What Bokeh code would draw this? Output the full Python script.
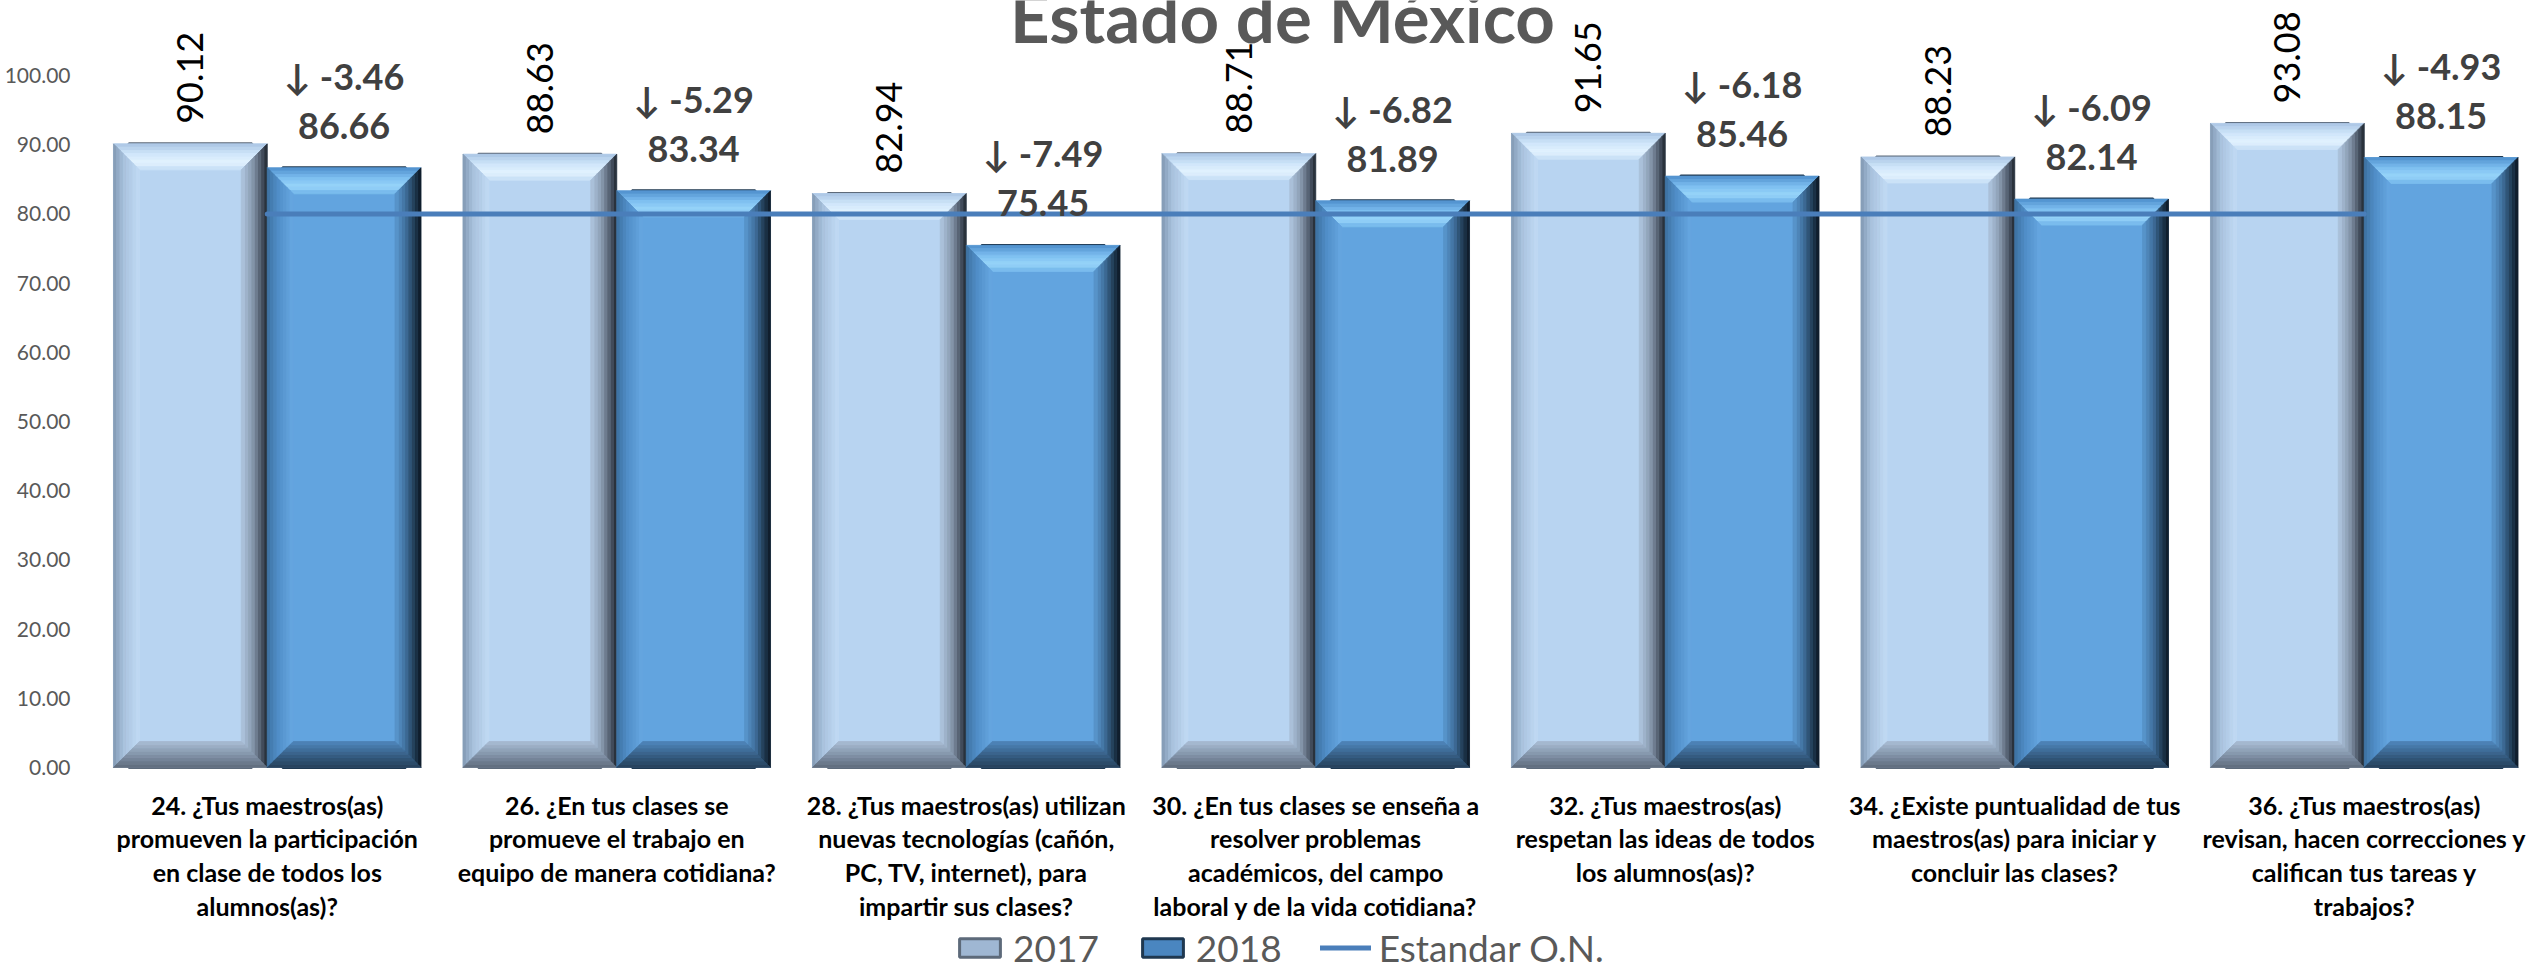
import numpy as np
from bokeh.plotting import figure
from bokeh.models import (Range1d, FixedTicker, NumeralTickFormatter, Legend,
                          LegendItem, Label, ColumnDataSource)
from bokeh.core.properties import value
from bokeh.embed import file_html
from bokeh.resources import INLINE

# ---------------- data ----------------
categories = [
    "24. ¿Tus maestros(as)\npromueven la participación\nen clase de todos los\nalumnos(as)?",
    "26. ¿En tus clases se\npromueve el trabajo en\nequipo de manera cotidiana?",
    "28. ¿Tus maestros(as) utilizan\nnuevas tecnologías (cañón,\nPC, TV, internet), para\nimpartir sus clases?",
    "30. ¿En tus clases se enseña a\nresolver problemas\nacadémicos, del campo\nlaboral y de la vida cotidiana?",
    "32. ¿Tus maestros(as)\nrespetan las ideas de todos\nlos alumnos(as)?",
    "34. ¿Existe puntualidad de tus\nmaestros(as) para iniciar y\nconcluir las clases?",
    "36. ¿Tus maestros(as)\nrevisan, hacen correcciones y\ncalifican tus tareas y\ntrabajos?",
]
values_2017 = [90.12, 88.63, 82.94, 88.71, 91.65, 88.23, 93.08]
values_2018 = [86.66, 83.34, 75.45, 81.89, 85.46, 82.14, 88.15]
deltas = [-3.46, -5.29, -7.49, -6.82, -6.18, -6.09, -4.93]
estandar = [80, 80, 80, 80, 80, 80, 80]
y_ticks = [0, 10, 20, 30, 40, 50, 60, 70, 80, 90, 100]
series_names = ["2017", "2018", "Estandar O.N."]
title_text = "Estado de México"

# ---------------- layout constants ----------------
W, H = 2542, 970
FRAME_L = 92
ZERO_PX = 767          # screen y of value 0
PX_X = 349.5           # px per category
PX_Y = 6.92            # px per y unit
x_start = -0.5
x_end = x_start + (W - FRAME_L) / PX_X
y_start = -(H - ZERO_PX) / PX_Y
y_end = ZERO_PX / PX_Y

BAR_W = 0.44
OFF = BAR_W / 2
BEV_PX = 26
bx = BEV_PX / PX_X
by = BEV_PX / PX_Y

FONT = "Lato"

idx = np.arange(len(categories))
x17 = idx - OFF
x18 = idx + OFF

p = figure(width=W, height=H, output_backend="svg", toolbar_location=None,
           x_range=Range1d(x_start, x_end), y_range=Range1d(y_start, y_end),
           x_axis_location=None,
           min_border_left=FRAME_L, min_border_right=0, min_border_top=0,
           min_border_bottom=0, outline_line_color=None)
p.xgrid.grid_line_color = None
p.ygrid.grid_line_color = None

# legend swatches: drawn first, hidden under the bars, only their look is used by the legend
sw17 = p.vbar(x=x17, top=values_2017, width=BAR_W * 0.8, bottom=0,
              fill_color="#9FB7D3", line_color="#5D6A7A", line_width=3)
sw18 = p.vbar(x=x18, top=values_2018, width=BAR_W * 0.8, bottom=0,
              fill_color="#4A86C0", line_color="#1F3850", line_width=3)

# ---------------- bars ----------------
BASE17 = "#B8D4F1"
BASE18 = "#62A4DF"
p.vbar(x=x17, top=values_2017, width=BAR_W, bottom=0, fill_color=BASE17, line_color=None)
p.vbar(x=x18, top=values_2018, width=BAR_W, bottom=0, fill_color=BASE18, line_color=None)


def h2r(h):
    h = h.lstrip("#")
    return np.array([int(h[i:i + 2], 16) for i in (0, 2, 4)], dtype=float)


def grad(stops, t):
    for (p0, c0), (p1, c1) in zip(stops[:-1], stops[1:]):
        if p0 <= t <= p1:
            f = (t - p0) / (p1 - p0) if p1 > p0 else 0
            c = h2r(c0) * (1 - f) + h2r(c1) * f
            return "#%02x%02x%02x" % tuple(int(round(v)) for v in c)
    return stops[-1][1]


PROF17 = {
    "top": [(0, "#A9C4E4"), (0.4, "#D0E6FA"), (0.75, "#E4F3FF"), (1, "#C3DCF4")],
    "left": [(0, "#8197B1"), (0.4, "#A8C1DD"), (1, "#C2DBF4")],
    "right": [(0, "#1E252E"), (0.25, "#4D5868"), (0.6, "#8A9BB0"), (1, "#B0C7E1")],
    "bottom": [(0, "#5D6A7A"), (0.4, "#7B8BA0"), (1, "#A9BDD5")],
}
PROF18 = {
    "top": [(0, "#4C8DCB"), (0.4, "#7DBEF0"), (0.75, "#99D6FA"), (1, "#70B3EA")],
    "left": [(0, "#3C6F9F"), (0.4, "#4F8CC6"), (1, "#66A8E2")],
    "right": [(0, "#0B1621"), (0.25, "#1F3850"), (0.6, "#3F6E9B"), (1, "#5B9AD2")],
    "bottom": [(0, "#263F58"), (0.4, "#33587C"), (1, "#4F86BC")],
}


def bevels(xc, tops, prof, nb=8):
    xs, ys, cols = [], [], []
    for c, T in zip(xc, tops):
        L, R = c - OFF, c + OFF
        for side, stops in prof.items():
            for k in range(nb):
                d0, d1 = k / nb, (k + 1) / nb
                col = grad(stops, (k + 0.5) / nb)
                if side == "top":
                    px = [L + d0 * bx, R - d0 * bx, R - d1 * bx, L + d1 * bx]
                    py = [T - d0 * by, T - d0 * by, T - d1 * by, T - d1 * by]
                elif side == "bottom":
                    px = [L + d0 * bx, R - d0 * bx, R - d1 * bx, L + d1 * bx]
                    py = [d0 * by, d0 * by, d1 * by, d1 * by]
                elif side == "left":
                    px = [L + d0 * bx, L + d0 * bx, L + d1 * bx, L + d1 * bx]
                    py = [T - d0 * by, d0 * by, d1 * by, T - d1 * by]
                else:
                    px = [R - d0 * bx, R - d0 * bx, R - d1 * bx, R - d1 * bx]
                    py = [T - d0 * by, d0 * by, d1 * by, T - d1 * by]
                xs.append(px)
                ys.append(py)
                cols.append(col)
    return xs, ys, cols


for xc, tops, prof in ((x17, values_2017, PROF17), (x18, values_2018, PROF18)):
    bxs, bys, bcols = bevels(xc, tops, prof)
    src = ColumnDataSource(dict(xs=bxs, ys=bys, c=bcols))
    p.patches("xs", "ys", source=src, fill_color="c", line_color="c", line_width=0.8)

# ---------------- standard line ----------------
r_line = p.line(x=idx, y=estandar, line_color="#4A7EBA", line_width=5, line_cap="round")

# ---------------- data labels ----------------
lab17 = ColumnDataSource(dict(x=x17, y=np.array(values_2017) + 20 / PX_Y,
                              t=[f"{v:.2f}" for v in values_2017]))
p.text(x="x", y="y", text="t", source=lab17, angle=np.pi / 2,
       text_align="left", text_baseline="middle",
       text_font=value(FONT), text_font_size="36px", text_color="#000000")

lab18 = ColumnDataSource(dict(x=x18, y=np.array(values_2018) + 42 / PX_Y,
                              y2=np.array(values_2018) + 92 / PX_Y,
                              t=[f"{v:.2f}" for v in values_2018],
                              d=[f"\u2193 {d:.2f}" for d in deltas]))
p.text(x="x", y="y", text="t", source=lab18, text_align="center",
       text_baseline="alphabetic", text_font=value(FONT), text_font_size="36px",
       text_font_style="bold", text_color="#404040")
p.text(x="x", y="y2", text="d", source=lab18, text_align="center",
       text_baseline="alphabetic", text_font=value(FONT), text_font_size="36px",
       text_font_style="bold", text_color="#404040")

# ---------------- category labels ----------------
cat_src = ColumnDataSource(dict(x=idx, y=np.full(len(idx), -22 / PX_Y), t=categories))
p.text(x="x", y="y", text="t", source=cat_src, text_align="center",
       text_baseline="top", text_font=value(FONT), text_font_size="25px",
       text_font_style="bold", text_color="#000000", text_line_height=1.13)

# ---------------- title ----------------
p.add_layout(Label(x=x_start + (1282 - FRAME_L) / PX_X, y=(ZERO_PX - 16) / PX_Y,
                   text=title_text, text_align="center", text_baseline="alphabetic",
                   text_font=FONT, text_font_size="69px", text_font_style="bold",
                   text_color="#595959"))

# ---------------- y axis ----------------
p.yaxis.ticker = FixedTicker(ticks=y_ticks)
p.yaxis.formatter = NumeralTickFormatter(format="0.00")
p.yaxis.axis_line_color = None
p.yaxis.major_tick_line_color = None
p.yaxis.minor_tick_line_color = None
p.yaxis.major_tick_out = 0
p.yaxis.major_tick_in = 0
p.yaxis.major_label_text_font = FONT
p.yaxis.major_label_text_font_size = "21px"
p.yaxis.major_label_text_color = "#595959"
p.yaxis.major_label_standoff = 22

# ---------------- legend ----------------
legend = Legend(items=[LegendItem(label=series_names[0], renderers=[sw17]),
                       LegendItem(label=series_names[1], renderers=[sw18]),
                       LegendItem(label=series_names[2], renderers=[r_line])],
                location=(862, 0), orientation="horizontal",
                glyph_width=51, glyph_height=23, label_standoff=8, spacing=38,
                padding=0, margin=0, border_line_color=None,
                background_fill_alpha=0,
                label_text_font=FONT, label_text_font_size="37px",
                label_text_color="#595959")
p.add_layout(legend)

open("out.html", "w").write(file_html(p, INLINE))
